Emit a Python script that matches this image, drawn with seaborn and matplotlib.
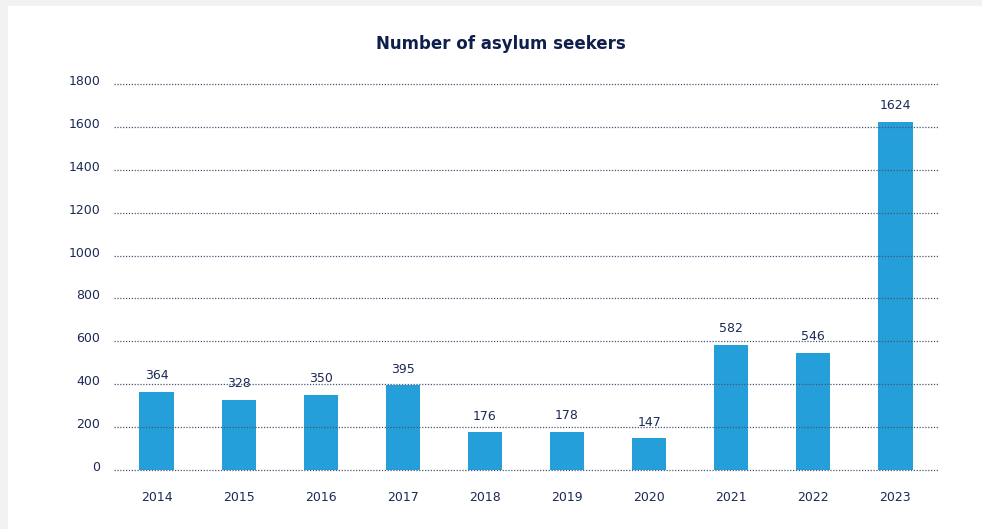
import matplotlib
matplotlib.use("Agg")
import matplotlib.pyplot as plt
import matplotlib.transforms as mtransforms
import seaborn as sns
import pandas as pd
from matplotlib.patches import Rectangle

years = ["2014", "2015", "2016", "2017", "2018", "2019", "2020", "2021", "2022", "2023"]
seekers = [364, 328, 350, 395, 176, 178, 147, 582, 546, 1624]
yticks = [0, 200, 400, 600, 800, 1000, 1200, 1400, 1600, 1800]

df = pd.DataFrame({"year": years, "seekers": seekers})

sns.set_theme(style="white")
plt.rcParams['font.family'] = ['DejaVu Sans']

text_col = "#1b2a55"
bar_col = "#259fd9"
grid_col = "#4a5573"

fig = plt.figure(figsize=(9.82, 5.29), dpi=100)
fig.patch.set_facecolor("#f2f2f2")
fig.patches.append(Rectangle((8/982, 0), 1, (529-6)/529, transform=fig.transFigure,
                             facecolor="white", edgecolor="none", zorder=-5))
ax = fig.add_axes([114/982, 59/529, (938-114)/982, (470-84)/529])
ax.set_zorder(2)
ax.set_facecolor("none")

sns.barplot(data=df, x="year", y="seekers", color=bar_col, width=0.42, ax=ax,
            saturation=1, linewidth=0, zorder=2)

ax.set_ylim(0, 1800)
ax.set_yticks(yticks)
ax.set_xlim(-0.52, len(years) - 0.48)
for y in yticks:
    ax.axhline(y, color=grid_col, linestyle=(0, (1, 1.3)), linewidth=0.9, zorder=3,
               clip_on=False)

for i, v in enumerate(seekers):
    ax.annotate(str(v), (i, v), xytext=(0, 7), textcoords="offset points",
                ha="center", va="bottom", fontsize=9, color=text_col, zorder=4)

for s in ax.spines.values():
    s.set_visible(False)
ax.tick_params(axis="y", length=0, pad=10, labelsize=9, labelcolor=text_col)
ax.tick_params(axis="x", length=0, pad=15, labelsize=9, labelcolor=text_col)
ax.set_xlabel("")
ax.set_ylabel("")
ax.grid(False)

offset = mtransforms.ScaledTranslation(0, 4/100, fig.dpi_scale_trans)
for lab in ax.get_yticklabels():
    lab.set_transform(lab.get_transform() + offset)

fig.text(501/982, 1 - 44/529, "Number of asylum seekers", ha="center", va="center",
         fontsize=12, fontweight="bold", color="#0f1f4b")

fig.savefig("out.png", dpi=100, facecolor=fig.get_facecolor())
